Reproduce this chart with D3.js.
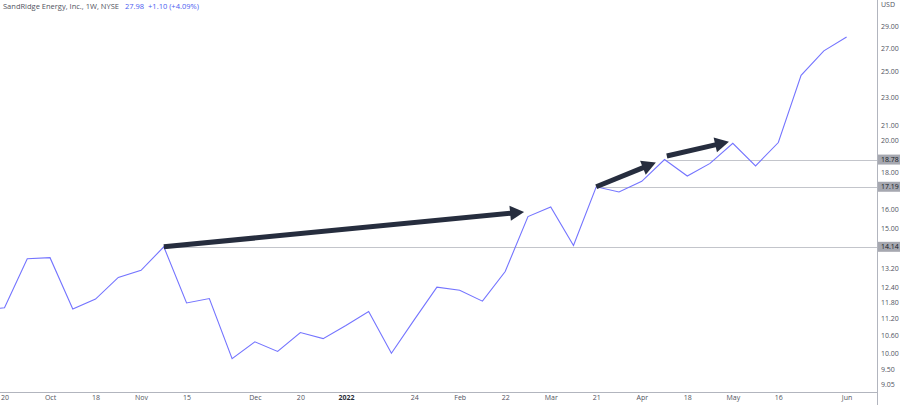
<!DOCTYPE html>
<html><head><meta charset="utf-8">
<script src="https://cdn.jsdelivr.net/npm/d3@7"></script>
<style>body{margin:0;background:#fff;}svg{display:block;font-family:"Open Sans","DejaVu Sans",sans-serif;}</style>
</head><body><svg id="c" width="900" height="405"></svg>
<script>
const dates = ["2021-09-13","2021-09-20","2021-09-27","2021-10-04","2021-10-11","2021-10-18","2021-10-25","2021-11-01","2021-11-08","2021-11-15","2021-11-22","2021-11-29","2021-12-06","2021-12-13","2021-12-20","2021-12-27","2022-01-03","2022-01-10","2022-01-17","2022-01-24","2022-01-31","2022-02-07","2022-02-14","2022-02-22","2022-02-28","2022-03-07","2022-03-14","2022-03-21","2022-03-28","2022-04-04","2022-04-11","2022-04-18","2022-04-25","2022-05-02","2022-05-09","2022-05-16","2022-05-23","2022-05-31","2022-06-06"];
const closes = [11.5,11.6,13.6,13.65,11.55,11.93,12.8,13.1,14.14,11.78,11.95,9.83,10.38,10.06,10.7,10.49,10.95,11.46,10.0,11.15,12.4,12.28,11.85,13.05,15.6,16.1,14.2,17.19,16.9,17.5,18.78,17.8,18.55,19.8,18.4,19.85,24.7,26.75,27.98];
const xTickDates = ["2021-09-20","2021-10-04","2021-10-18","2021-11-01","2021-11-15","2021-12-06","2021-12-20","2022-01-03","2022-01-24","2022-02-07","2022-02-22","2022-03-07","2022-03-21","2022-04-04","2022-04-18","2022-05-02","2022-05-16","2022-06-06"];
const xTickLabels = ["20","Oct","18","Nov","15","Dec","20","2022","24","Feb","22","Mar","21","Apr","18","May","16","Jun"];
const yTicks = [29,27,25,23,21,20,18,16,15,13.2,12.4,11.8,11.2,10.6,10.0,9.5,9.05];
const levels = [14.14,17.19,18.78];
const levelStart = ["2021-11-08","2022-03-21","2022-04-11"];
// arrows: [fromDateIdx, fromValue, toDateIdx(fractional), toValue]
const arrows = [[8,14.14,23.83,15.84],[27,17.19,29.62,18.6],[30.1,19.0,32.83,19.9]];

const svg = d3.select("#c");
const plotR = 877, plotB = 392;
const step = 22.76;
const x = d3.scalePoint().domain(dates).range([4.5 - step, 846.6]);
const xi = d3.scaleLinear().domain([0, dates.length-1]).range([4.5 - step, 846.6]);
const y = d3.scaleLog().domain([9.05, 29]).range([384, 26]);

svg.append("clipPath").attr("id","clip").append("rect").attr("x",0).attr("y",0).attr("width",plotR).attr("height",plotB);
const g = svg.append("g").attr("clip-path","url(#clip)");

levels.forEach((v,i)=>{
  g.append("line").attr("x1",x(levelStart[i])).attr("x2",plotR).attr("y1",Math.round(y(v))+0.5).attr("y2",Math.round(y(v))+0.5)
   .attr("stroke","#c3c5cb").attr("stroke-width",1);
});

g.append("path").datum(closes).attr("fill","none").attr("stroke","#7474ff").attr("stroke-width",1.1)
 .attr("d", d3.line().x((d,i)=>x(dates[i])).y(d=>y(d)));

const aCol = "#262d3e";
arrows.forEach(a=>{
  const x1=xi(a[0]), y1=y(a[1]), x2=xi(a[2]), y2=y(a[3]);
  const ang=Math.atan2(y2-y1,x2-x1), hl=14, hw=7.5;
  const bx=x2-hl*Math.cos(ang), by=y2-hl*Math.sin(ang);
  g.append("line").attr("x1",x1).attr("y1",y1).attr("x2",bx+Math.cos(ang)).attr("y2",by+Math.sin(ang))
   .attr("stroke",aCol).attr("stroke-width",5);
  const px=-Math.sin(ang), py=Math.cos(ang);
  g.append("path").attr("fill",aCol)
   .attr("d",`M${x2},${y2}L${bx+px*hw},${by+py*hw}L${bx-px*hw},${by-py*hw}Z`);
});

svg.append("line").attr("x1",plotR+0.5).attr("x2",plotR+0.5).attr("y1",0).attr("y2",405).attr("stroke","#b2b5be");
svg.append("line").attr("x1",0).attr("x2",plotR).attr("y1",plotB+0.5).attr("y2",plotB+0.5).attr("stroke","#b2b5be");

const ya = svg.append("g").attr("transform",`translate(${plotR},0)`)
  .call(d3.axisRight(y).tickValues(yTicks).tickSize(0).tickPadding(4).tickFormat(d3.format(".2f")));
ya.select(".domain").remove();
ya.selectAll("text").attr("fill","#50535e").attr("font-size",7).style("font-family","'Open Sans','DejaVu Sans',sans-serif");
svg.append("text").attr("x",881).attr("y",7).attr("fill","#50535e").attr("font-size",7).text("USD");

levels.forEach(v=>{
  const yy=y(v);
  svg.append("rect").attr("x",plotR+1).attr("y",yy-5).attr("width",22).attr("height",10).attr("fill","#a6a8b0");
  svg.append("text").attr("x",plotR+4).attr("y",yy+2.5).attr("font-size",7).attr("fill","#131722").text(d3.format(".2f")(v));
});

const xa = svg.append("g").attr("transform",`translate(0,${plotB})`)
  .call(d3.axisBottom(x).tickValues(xTickDates).tickSize(0).tickPadding(3).tickFormat((d,i)=>xTickLabels[i]));
xa.select(".domain").remove();
xa.selectAll("text").attr("font-size",7).style("font-family","'Open Sans','DejaVu Sans',sans-serif")
  .attr("font-weight",(d,i)=>xTickLabels[i]==="2022"?"bold":"normal").attr("fill",(d,i)=>xTickLabels[i]==="2022"?"#2a2e39":"#50535e");

const t = svg.append("text").attr("x",3).attr("y",9).attr("font-size",7.5);
t.append("tspan").attr("fill","#50535e").text("SandRidge Energy, Inc., 1W, NYSE");
t.append("tspan").attr("fill","#4a5cf0").attr("dx",6).text("27.98");
t.append("tspan").attr("fill","#4a5cf0").attr("dx",4).text("+1.10 (+4.09%)");
</script></body></html>
